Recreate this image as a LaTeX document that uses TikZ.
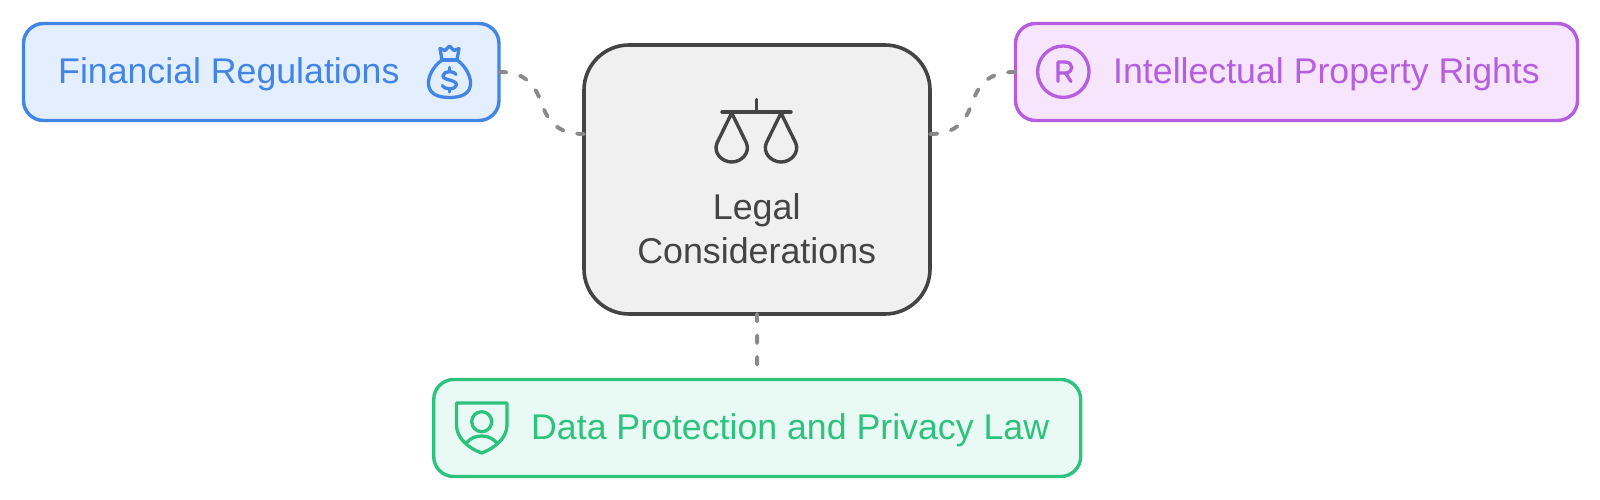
\documentclass[tikz,border=0pt]{standalone}
\usepackage{fontspec}
\setmainfont{Liberation Sans}
\definecolor{bluS}{HTML}{4285E4}\definecolor{bluF}{HTML}{E3EEFF}
\definecolor{purS}{HTML}{B65EE0}\definecolor{purF}{HTML}{F6E5FD}
\definecolor{grnS}{HTML}{2DC27E}\definecolor{grnF}{HTML}{E8FAF3}
\definecolor{cenS}{HTML}{444444}\definecolor{cenF}{HTML}{F0F0F0}
\definecolor{conn}{HTML}{8A8A8A}
\tikzset{
 card/.style={draw,line width=3.4pt,outer sep=0pt,rounded corners=20pt,inner sep=0pt,minimum height=97pt,anchor=north west},
 label/.style={inner sep=0pt,anchor=base west,font=\fontsize{35.7}{40}\selectfont},
 icon/.style={line width=3.3pt,line cap=round,line join=round},
 link/.style={draw=conn,line width=3.9pt,line cap=round,dash pattern=on 7.5pt off 14pt},
}
\begin{document}
\begin{tikzpicture}[x=1pt,y=-1pt]
\useasboundingbox (0,0) rectangle (1600,500);
\fill[white] (0,0) rectangle (1600,500);
\node[card,draw=bluS,fill=bluF,minimum width=475.5pt] (fin) at (23.5,23.5) {};
\node[card,draw=purS,fill=purF,minimum width=562pt] (ipr) at (1015.5,23.5) {};
\node[card,draw=grnS,fill=grnF,minimum width=647pt] (dat) at (433.7,379.5) {};
\node[card,draw=cenS,fill=cenF,line width=3.6pt,rounded corners=45pt,minimum width=346pt,minimum height=269pt] (cen) at (584,45) {};
\coordinate (cenL) at (cen.west |- 0,134);
\coordinate (cenR) at (cen.east |- 0,134);
\coordinate (midL) at (541.5,103);
\coordinate (midR) at (972,103);
\draw[link] (fin.east) .. controls (525,71.5) and (535,85) .. (midL) .. controls (548,122) and (558,134) .. (cenL);
\draw[link] (ipr.west) .. controls (988.5,71.5) and (978.5,85) .. (midR) .. controls (965.5,122) and (955.5,134) .. (cenR);
\draw[link,shorten >=8pt] (cen.south) -- (dat.north);
\node[label,text=bluS] (t1) at (58,84) {Financial Regulations};
\node[label,text=purS] (t2) at (1113,84) {Intellectual Property Rights};
\node[label,text=grnS] (t3) at (531,439) {Data Protection and Privacy Law};
\node[inner sep=0pt,text=cenS,font=\fontsize{35.8}{44}\selectfont,align=center] (t4) at (756.7,229) {Legal\\Considerations};
% bag
\begin{scope}[icon,draw=bluS]
\draw (442,60) -- (457,60);
\draw (442,60) .. controls (432,67) and (428,78) .. (428.5,84) .. controls (429,94) and (438,97.5) .. (449.5,97.5) .. controls (461,97.5) and (470,94) .. (470.5,84) .. controls (471,78) and (467,67) .. (457,60);
\draw (442,60) -- (440,48.5) -- (445,50.5) -- (449.5,46) -- (454,50.5) -- (459,48.5) -- (457,60);
\draw (456,74.5) .. controls (455,71) and (444,70) .. (443,75.5) .. controls (442.5,81) and (456.5,79) .. (456.5,85) .. controls (456,90) and (444,90) .. (442.5,85.5);
\draw (449.5,67.5) -- (449.5,70.5) (449.5,89) -- (449.5,92);
\end{scope}
% scales
\begin{scope}[icon,draw=cenS,line width=3.4pt]
\draw (722,112) -- (791,112) (756.7,99.5) -- (756.7,112);
\draw (731.7,113) -- (717,143) .. controls (713,153) and (722,162) .. (731.7,162) .. controls (741.4,162) and (750.4,153) .. (746.4,143) -- cycle;
\draw (781,113) -- (766.3,143) .. controls (762.3,153) and (771.3,162) .. (781,162) .. controls (790.7,162) and (799.7,153) .. (795.7,143) -- cycle;
\end{scope}
% registered
\begin{scope}[icon,draw=purS]
\draw (1063.3,71.7) circle (25.7);
\draw (1058,81.5) -- (1058,62) -- (1065,62) .. controls (1074,62) and (1074,73) .. (1065,73) -- (1058,73) (1065.5,73) -- (1071,81.5);
\end{scope}
% shield
\begin{scope}[icon,draw=grnS]
\draw (456.5,403) -- (507,403) -- (507,425) .. controls (507,438) and (495,448) .. (481.7,453) .. controls (468,448) and (456.5,438) .. (456.5,425) -- cycle;
\draw (481.7,421.7) circle (10);
\draw (466.5,443) .. controls (470,438) and (476,436) .. (481.7,436) .. controls (487,436) and (493,438) .. (496.7,443);
\end{scope}
\end{tikzpicture}
\end{document}
